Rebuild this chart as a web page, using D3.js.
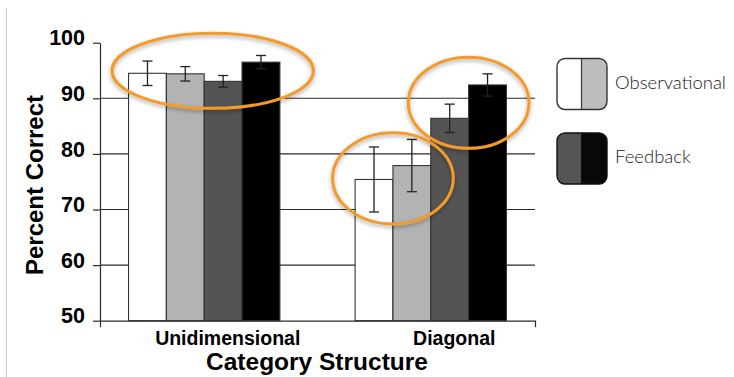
<!DOCTYPE html>
<html>
<head>
<meta charset="utf-8">
<script src="https://cdn.jsdelivr.net/npm/d3@7"></script>
<style>
  html, body { margin: 0; padding: 0; background: #fff; }
  svg { display: block; }
</style>
</head>
<body>
<script>
// Category structures on the x axis
const categories = ["Unidimensional", "Diagonal"];
// Four training conditions, drawn left to right inside each group
const conditions = ["obs1", "obs2", "fb1", "fb2"];
const conditionFills = ["#ffffff", "#b3b3b3", "#545454", "#000000"];
// Mean percent correct per condition, one array per category
const meansUnidimensional = [94.5, 94.4, 93.05, 96.5];
const meansDiagonal = [75.4, 77.9, 86.4, 92.4];
// Error bar half-lengths (percent)
const errUnidimensional = [2.2, 1.3, 1.05, 1.2];
const errDiagonal = [5.85, 4.7, 2.55, 2.0];
// Y axis ticks
const yTicks = [50, 60, 70, 80, 90, 100];
const gridTicks = [60, 70, 80, 90];
// Legend entries: each swatch shows a pair of condition fills
const legendLabels = ["Observational", "Feedback"];
const legendPairs = [["#ffffff", "#bdbdbd"], ["#555555", "#080808"]];
const legendStrokes = ["#333333", "#111111"];
// Highlight rings: category, first/last bar enclosed, centre value, vertical half-extent (percent)
const highlightCategory = ["Unidimensional", "Diagonal", "Diagonal"];
const highlightBars = [[0, 3], [0, 1], [2, 3]];
const highlightValue = [94.95, 75.6, 89.2];
const highlightSpread = [6.75, 8.2, 8.2];

const W = 734, H = 377;
const plot = { left: 100, right: 535, top: 42.7, bottom: 320.7 };

const svg = d3.select("body").append("svg")
  .attr("width", W).attr("height", H)
  .attr("font-family", "'Liberation Sans', Arial, Helvetica, sans-serif");

svg.append("rect").attr("width", W).attr("height", H).attr("fill", "#fff");

// faint page edge on the left
svg.append("line")
  .attr("x1", 6.5).attr("x2", 6.5).attr("y1", 8).attr("y2", H)
  .attr("stroke", "#cfcfcf").attr("stroke-width", 1.2);

const defs = svg.append("defs");
const shadow = defs.append("filter").attr("id", "ringShadow")
  .attr("x", "-20%").attr("y", "-20%").attr("width", "140%").attr("height", "150%");
shadow.append("feDropShadow")
  .attr("dx", 0).attr("dy", 2).attr("stdDeviation", 2)
  .attr("flood-color", "#000").attr("flood-opacity", 0.35);

const y = d3.scaleLinear().domain([50, 100]).range([plot.bottom, plot.top]);
const x0 = d3.scaleBand().domain(categories)
  .range([plot.left, plot.right]).paddingInner(0.332).paddingOuter(0.126);
const x1 = d3.scaleBand().domain(conditions).range([0, x0.bandwidth()]);

const rows = categories.map((c, i) => ({
  category: c,
  means: i === 0 ? meansUnidimensional : meansDiagonal,
  errs: i === 0 ? errUnidimensional : errDiagonal
}));

// gridlines
svg.append("g").selectAll("line").data(gridTicks).join("line")
  .attr("x1", plot.left).attr("x2", plot.right)
  .attr("y1", d => y(d)).attr("y2", d => y(d))
  .attr("stroke", "#2a2a2a").attr("stroke-width", 1.1);

// bars
const groups = svg.append("g").selectAll("g").data(rows).join("g")
  .attr("transform", d => `translate(${x0(d.category)},0)`);

groups.selectAll("rect")
  .data(d => conditions.map((k, j) => ({ k, v: d.means[j], e: d.errs[j], j })))
  .join("rect")
  .attr("x", d => x1(d.k))
  .attr("y", d => y(d.v))
  .attr("width", x1.bandwidth())
  .attr("height", d => y(50) - y(d.v))
  .attr("fill", d => conditionFills[d.j])
  .attr("stroke", "#333").attr("stroke-width", 1.1);

// error bars
const eb = groups.selectAll("g.err")
  .data(d => conditions.map((k, j) => ({ k, v: d.means[j], e: d.errs[j], j })))
  .join("g").attr("class", "err")
  .attr("stroke", "#222").attr("stroke-width", 1.3);
eb.append("line")
  .attr("x1", d => x1(d.k) + x1.bandwidth() / 2).attr("x2", d => x1(d.k) + x1.bandwidth() / 2)
  .attr("y1", d => y(d.v + d.e)).attr("y2", d => y(d.v - d.e));
eb.append("line")
  .attr("x1", d => x1(d.k) + x1.bandwidth() / 2 - 5).attr("x2", d => x1(d.k) + x1.bandwidth() / 2 + 5)
  .attr("y1", d => y(d.v + d.e)).attr("y2", d => y(d.v + d.e));
eb.append("line")
  .attr("x1", d => x1(d.k) + x1.bandwidth() / 2 - 5).attr("x2", d => x1(d.k) + x1.bandwidth() / 2 + 5)
  .attr("y1", d => y(d.v - d.e)).attr("y2", d => y(d.v - d.e));

// y axis
const yAxis = svg.append("g")
  .attr("transform", `translate(${plot.left},0)`)
  .call(d3.axisLeft(y).tickValues(yTicks).tickSizeInner(7).tickSizeOuter(0).tickPadding(8));
yAxis.selectAll("path, line").attr("stroke", "#2a2a2a").attr("stroke-width", 1.2);
yAxis.selectAll("text")
  .attr("dy", "0.1em")
  .attr("font-size", 21.5).attr("font-weight", "bold").attr("fill", "#000")
  .attr("font-family", "'Liberation Sans', Arial, sans-serif");

// x axis
const xAxis = svg.append("g")
  .attr("transform", `translate(0,${plot.bottom})`)
  .call(d3.axisBottom(x0).tickSizeInner(0).tickSizeOuter(6.5).tickPadding(0));
xAxis.selectAll("path").attr("stroke", "#2a2a2a").attr("stroke-width", 1.2);
xAxis.selectAll("text")
  .attr("dx", 23.5).attr("dy", 0).attr("y", 24)
  .attr("font-size", 19.5).attr("font-weight", "bold").attr("fill", "#000")
  .attr("font-family", "'Liberation Sans', Arial, sans-serif");

// axis titles
svg.append("text")
  .attr("transform", `translate(43,185) rotate(-90)`)
  .attr("text-anchor", "middle")
  .attr("font-size", 24).attr("font-weight", "bold")
  .text("Percent Correct");
svg.append("text")
  .attr("x", 317).attr("y", 369.5)
  .attr("text-anchor", "middle")
  .attr("font-size", 24.5).attr("font-weight", "bold")
  .text("Category Structure");

// highlight rings
const rings = highlightCategory.map((c, i) => {
  const [a, b] = highlightBars[i];
  const left = x0(c) + x1(conditions[a]);
  const right = x0(c) + x1(conditions[b]) + x1.bandwidth();
  const cx = (left + right) / 2 + (b - a === 3 ? 8.5 : 0);
  const rx = (right - left) / 2 + (b - a === 3 ? 25 : 22.5);
  const cy = y(highlightValue[i]);
  const ry = y(highlightValue[i] - highlightSpread[i]) - cy;
  return { cx, cy, rx, ry };
});
svg.append("g").attr("filter", "url(#ringShadow)")
  .selectAll("ellipse").data(rings).join("ellipse")
  .attr("cx", d => d.cx).attr("cy", d => d.cy)
  .attr("rx", d => d.rx).attr("ry", d => d.ry)
  .attr("fill", "none").attr("stroke", "#f39a2b").attr("stroke-width", 3);

// legend
const legend = svg.append("g").attr("transform", "translate(557,58.5)");
const item = legend.selectAll("g").data(legendLabels).join("g")
  .attr("transform", (d, i) => `translate(0,${i * 74.5})`);
item.each(function (d, i) {
  const g = d3.select(this);
  const id = "swClip" + i;
  defs.append("clipPath").attr("id", id)
    .append("rect").attr("width", 50).attr("height", 51).attr("rx", 8).attr("ry", 8);
  const sw = g.append("g").attr("clip-path", `url(#${id})`);
  sw.append("rect").attr("width", 25).attr("height", 51).attr("fill", legendPairs[i][0]);
  sw.append("rect").attr("x", 25).attr("width", 25).attr("height", 51).attr("fill", legendPairs[i][1]);
  g.append("line").attr("x1", 24.5).attr("x2", 24.5).attr("y1", 0).attr("y2", 51)
    .attr("stroke", legendStrokes[i]).attr("stroke-width", 1.2);
  g.append("rect").attr("width", 50).attr("height", 51).attr("rx", 8).attr("ry", 8)
    .attr("fill", "none").attr("stroke", legendStrokes[i]).attr("stroke-width", 1.4);
  g.append("text")
    .attr("x", 58).attr("y", 30 + (i === 1 ? -0.5 : 0))
    .attr("font-family", "Lato, 'Open Sans', sans-serif")
    .attr("font-weight", 300)
    .attr("font-size", 18.5).attr("fill", "#1a1a1a")
    .text(d);
});
</script>
</body>
</html>
